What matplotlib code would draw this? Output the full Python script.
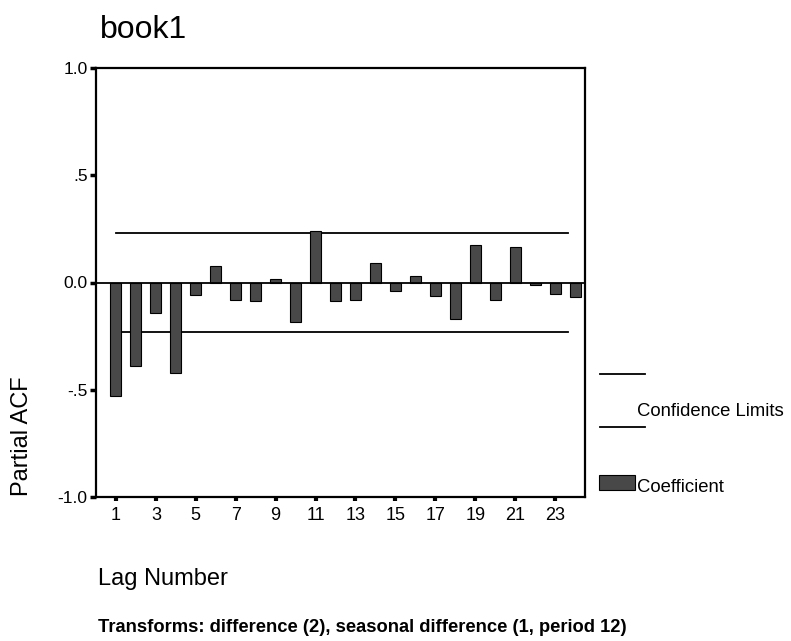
import matplotlib
matplotlib.use("Agg")
import matplotlib.pyplot as plt
from matplotlib.lines import Line2D
from matplotlib.patches import Rectangle

plt.rcParams['font.family'] = ['Liberation Sans', 'DejaVu Sans']

# partial ACF
lags = list(range(1, 25))
pacf = [-0.527, -0.388, -0.14, -0.42, -0.056, 0.075, -0.08, -0.088, 0.017, -0.183,
        0.24, -0.088, -0.08, 0.092, -0.04, 0.032, -0.064, -0.168, 0.173, -0.083,
        0.167, -0.01, -0.052, -0.067]
conf_limit = 0.233
yticks = [-1.0, -0.5, 0.0, 0.5, 1.0]
ytick_labels = ['-1.0', '-.5', '0.0', '.5', '1.0']
xticks = list(range(1, 24, 2))

W, H = 791, 641
fig = plt.figure(figsize=(W / 100, H / 100), dpi=100)
ax = fig.add_axes([96 / W, 1 - 497 / H, (585 - 96) / W, (497 - 68) / H])

ax.bar(lags, pacf, width=0.55, color='#484848', edgecolor='black', linewidth=0.8, zorder=3)
ax.axhline(0, color='black', lw=1.3, zorder=4)
ax.plot([1, 23.65], [conf_limit, conf_limit], color='black', lw=1.3)
ax.plot([1, 23.65], [-conf_limit, -conf_limit], color='black', lw=1.3)

ax.set_xlim(0, 24.5)
ax.set_ylim(-1, 1)
ax.set_yticks(yticks)
ax.set_yticklabels(ytick_labels, fontsize=12.5)
ax.set_xticks(xticks)
ax.set_xticklabels([str(t) for t in xticks], fontsize=13)
ax.tick_params(axis='y', direction='out', length=4, width=2.5, pad=2)
ax.tick_params(axis='x', direction='out', length=3, width=3, pad=4)
for s in ax.spines.values():
    s.set_linewidth(1.6)

fig.text(100 / W, 1 - 30 / H, 'book1', fontsize=23, ha='left', va='center')
fig.text(22 / W, 1 - 436 / H, 'Partial ACF', fontsize=17, rotation=90, ha='center', va='center')
fig.text(98 / W, 1 - 579 / H, 'Lag Number', fontsize=17, ha='left', va='center')
fig.text(98 / W, 1 - 627 / H, 'Transforms: difference (2), seasonal difference (1, period 12)',
         fontsize=13.2, fontweight='bold', ha='left', va='center')

# legend drawn by hand
for yy in (374, 427):
    fig.add_artist(Line2D([600 / W, 645 / W], [1 - yy / H, 1 - yy / H], color='black', lw=1.3,
                          transform=fig.transFigure))
fig.text(637 / W, 1 - 411 / H, 'Confidence Limits', fontsize=13.3, ha='left', va='center')
fig.add_artist(Rectangle((599 / W, 1 - 490 / H), 36 / W, 15 / H, facecolor='#484848',
                         edgecolor='black', lw=0.8, transform=fig.transFigure))
fig.text(637 / W, 1 - 488 / H, 'Coefficient', fontsize=13.3, ha='left', va='center')

fig.savefig('out.png', dpi=100)
